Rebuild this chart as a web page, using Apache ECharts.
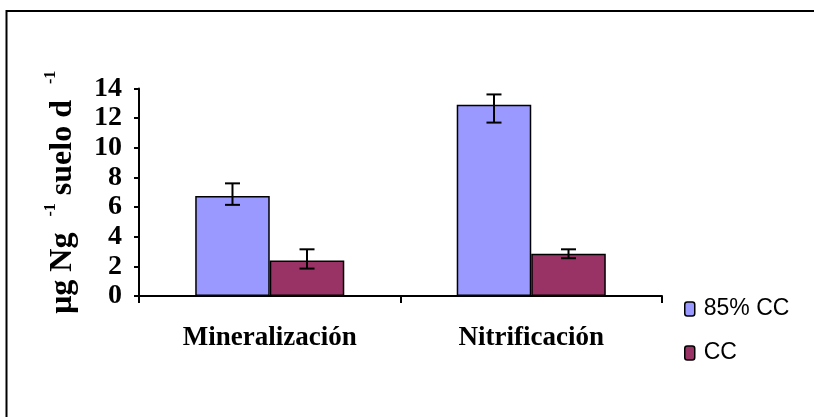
<!DOCTYPE html>
<html>
<head>
<meta charset="utf-8">
<script src="https://cdn.jsdelivr.net/npm/echarts@6/dist/echarts.min.js"></script>
<style>
html,body{margin:0;padding:0;background:#fff;}
#chart{width:814px;height:417px;}
</style>
</head>
<body>
<div id="chart"></div>
<script>
const categories = ['Mineralización', 'Nitrificación'];
const seriesNames = ['85% CC', 'CC'];
const values85 = [6.75, 12.9];
const valuesCC = [2.4, 2.85];
const err85Low = [6.15, 11.7];
const err85High = [7.6, 13.6];
const errCCLow = [1.85, 2.55];
const errCCHigh = [3.15, 3.15];
const yTicks = { min: 0, max: 14, interval: 2 };

const colors = ['#9999FF', '#993366'];
const barFrac = 0.285; // each bar as a fraction of category band

function errorSeries(low, high, side) {
  const data = categories.map((c, i) => [i, low[i], high[i]]);
  return {
    type: 'custom',
    z: 10,
    silent: true,
    data: data,
    encode: { x: 0, y: [1, 2] },
    renderItem: function (params, api) {
      const idx = api.value(0);
      const lo = api.coord([idx, api.value(1)]);
      const hi = api.coord([idx, api.value(2)]);
      const band = api.size([1, 0])[0];
      const x = lo[0] + side * band * barFrac / 2;
      const cap = 7.5;
      const style = { stroke: '#000', lineWidth: 2 };
      return {
        type: 'group',
        children: [
          { type: 'line', shape: { x1: x, y1: lo[1], x2: x, y2: hi[1] }, style: style },
          { type: 'line', shape: { x1: x - cap, y1: lo[1], x2: x + cap, y2: lo[1] }, style: style },
          { type: 'line', shape: { x1: x - cap, y1: hi[1], x2: x + cap, y2: hi[1] }, style: style }
        ]
      };
    }
  };
}

const chart = echarts.init(document.getElementById('chart'), null, { renderer: 'canvas' });
chart.setOption({
  animation: false,
  backgroundColor: '#fff',
  graphic: [{
    type: 'rect',
    shape: { x: 6.5, y: 11, width: 900, height: 500 },
    style: { fill: 'none', stroke: '#000', lineWidth: 2 },
    silent: true
  }],
  grid: { left: 139, right: 152, top: 88.5, bottom: 121, containLabel: false },
  legend: {
    orient: 'vertical',
    left: 679,
    top: 291,
    itemWidth: 10,
    itemHeight: 14,
    itemGap: 18,
    data: seriesNames,
    itemStyle: { borderColor: '#000', borderWidth: 1.5 },
    textStyle: { fontFamily: 'Liberation Sans', fontSize: 23, color: '#000', lineHeight: 24, padding: [2, 0, 0, 4] }
  },
  xAxis: {
    type: 'category',
    data: categories,
    axisLine: { lineStyle: { color: '#000', width: 2 } },
    axisTick: { show: true, length: 7, lineStyle: { color: '#000', width: 2 } },
    axisLabel: { color: '#000', fontFamily: 'Liberation Serif', fontWeight: 'bold', fontSize: 27, margin: 29 }
  },
  yAxis: {
    type: 'value',
    min: yTicks.min, max: yTicks.max, interval: yTicks.interval,
    splitLine: { show: false },
    axisLine: { show: true, lineStyle: { color: '#000', width: 2 } },
    axisTick: { show: true, length: 5, lineStyle: { color: '#000', width: 2 } },
    axisLabel: { color: '#000', fontFamily: 'Liberation Serif', fontWeight: 'bold', fontSize: 28, margin: 17 },
    name: '{b|μg Ng  }{s|-1}{b| suelo d  }{s|-1}',
    nameLocation: 'middle',
    nameRotate: 90,
    nameGap: 60,
    nameTextStyle: {
      rich: {
        b: { fontFamily: 'Liberation Serif', fontWeight: 'bold', fontSize: 32, color: '#000', lineHeight: 36, verticalAlign: 'bottom' },
        s: { fontFamily: 'Liberation Serif', fontWeight: 'bold', fontSize: 16, color: '#000', lineHeight: 36, verticalAlign: 'top' }
      }
    }
  },
  series: [
    {
      name: seriesNames[0], type: 'bar', data: values85,
      barGap: '0%', barCategoryGap: '43%',
      itemStyle: { color: colors[0], borderColor: '#000', borderWidth: 1.5 }
    },
    {
      name: seriesNames[1], type: 'bar', data: valuesCC,
      barGap: '0%', barCategoryGap: '43%',
      itemStyle: { color: colors[1], borderColor: '#000', borderWidth: 1.5 }
    },
    errorSeries(err85Low, err85High, -1),
    errorSeries(errCCLow, errCCHigh, 1)
  ]
});
</script>
</body>
</html>
